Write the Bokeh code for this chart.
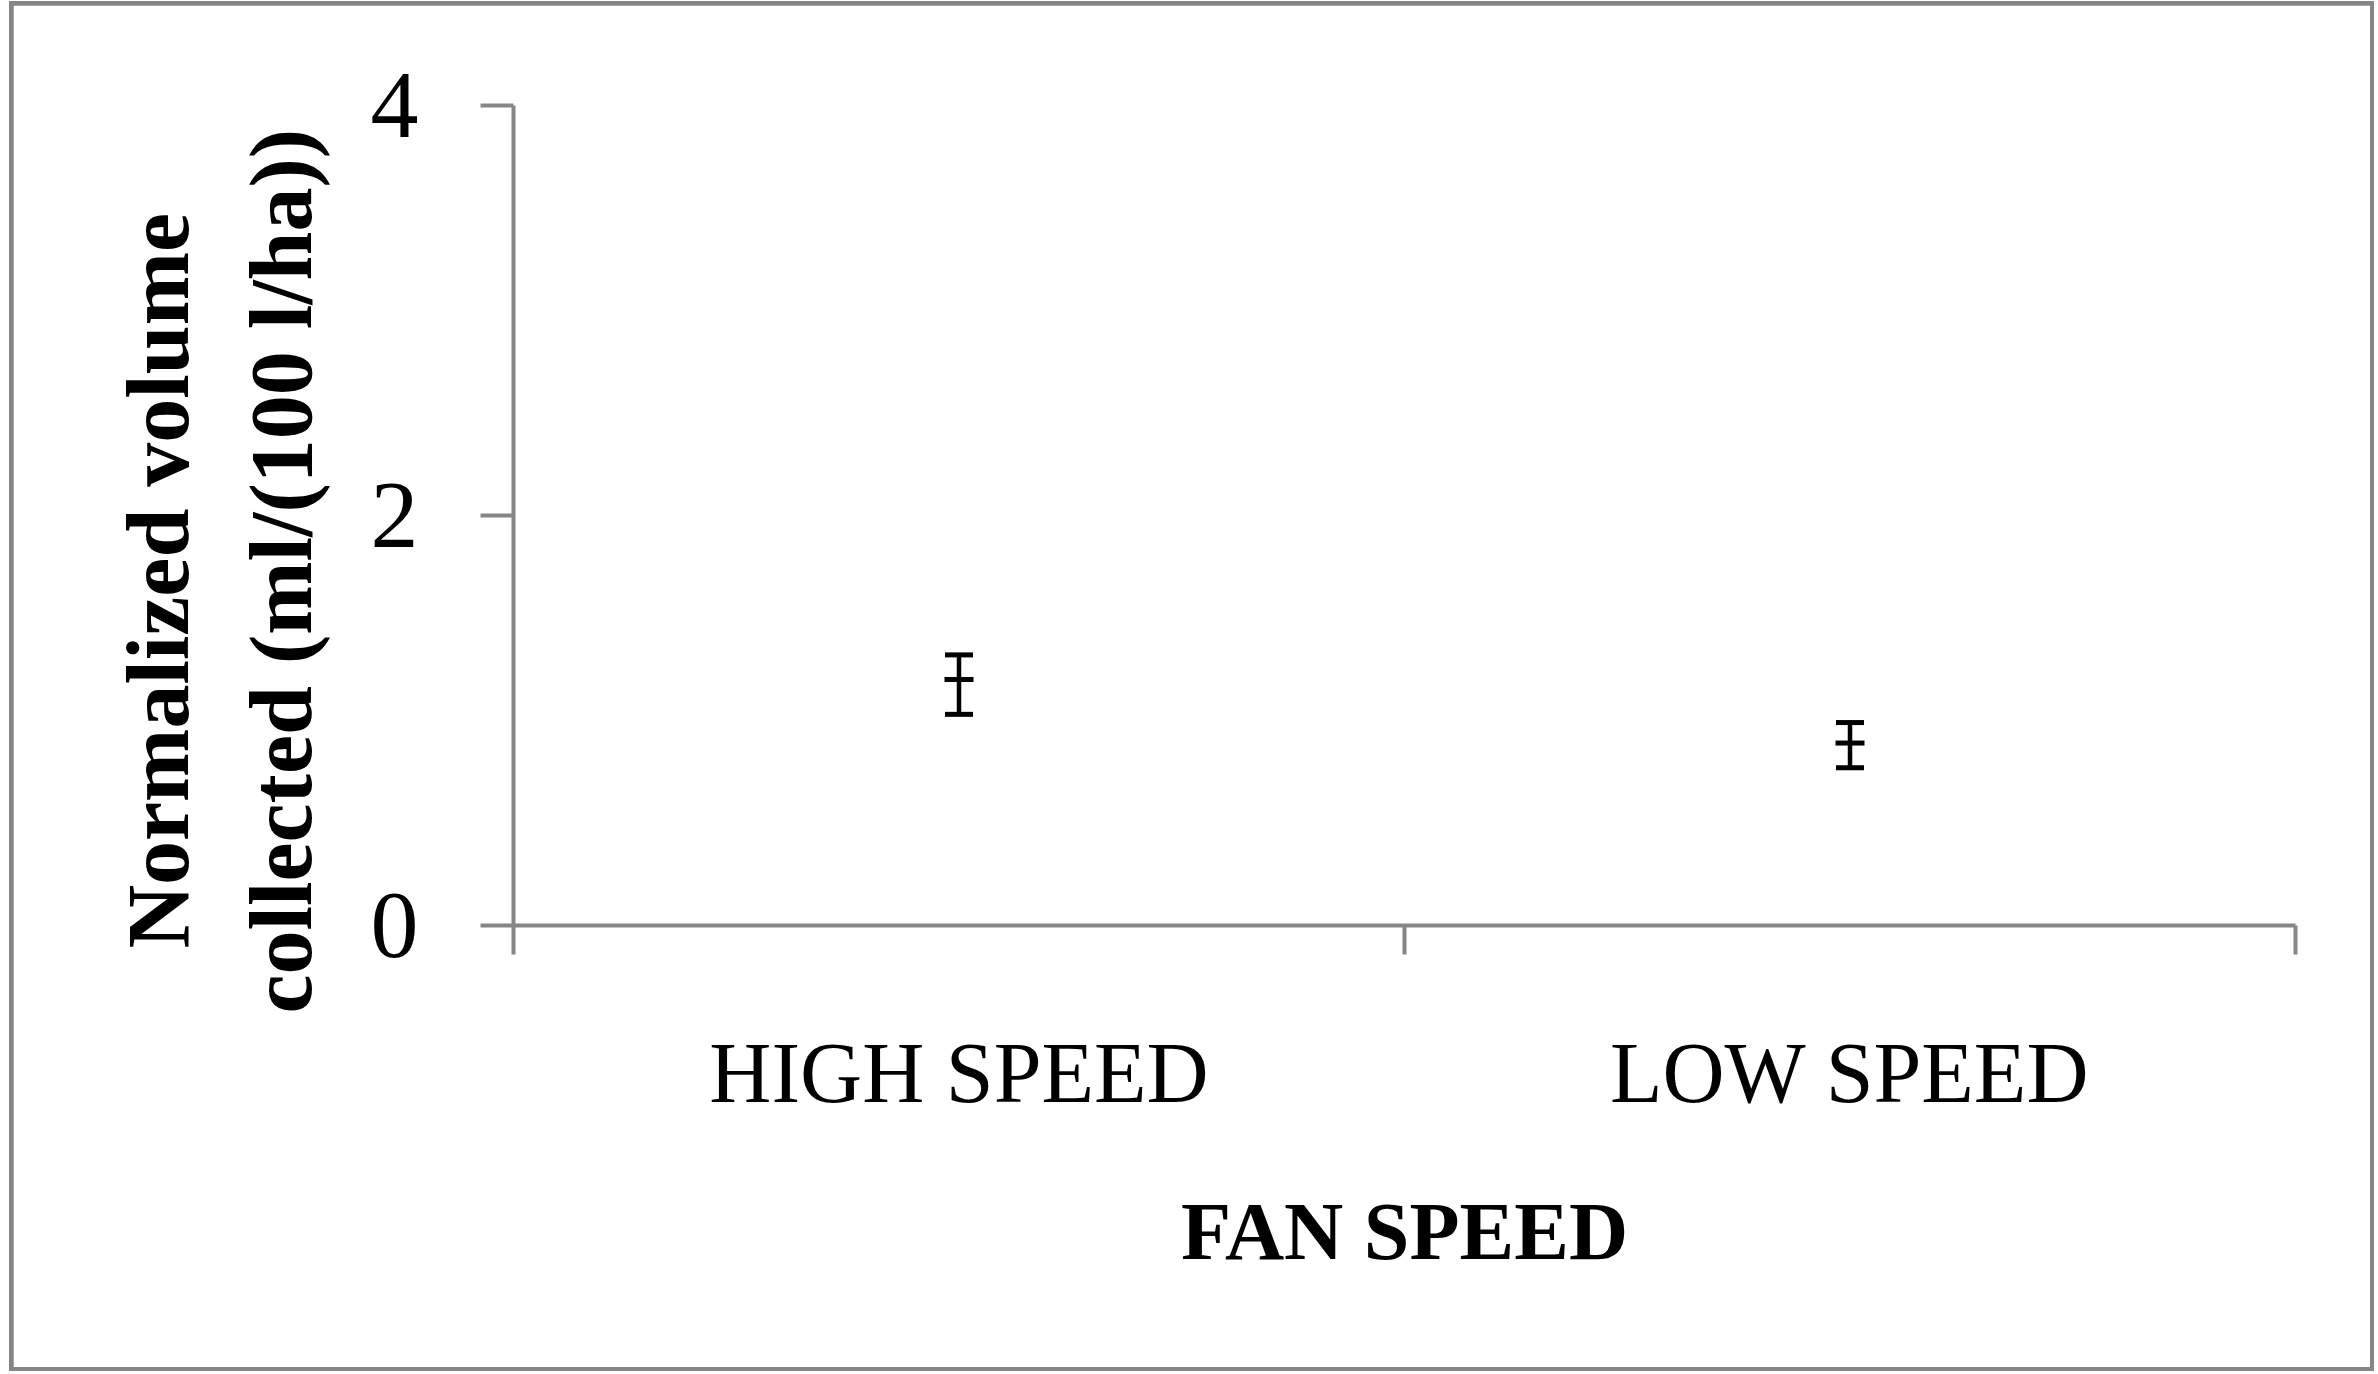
from bokeh.plotting import figure
from bokeh.models import (Range1d, FixedTicker, ColumnDataSource, Whisker, TeeHead, Title)
from bokeh.embed import file_html
from bokeh.resources import INLINE

# ---- data ----
categories = ["HIGH SPEED", "LOW SPEED"]
mean_vals = [1.20, 0.89]
upper_vals = [1.32, 0.99]
lower_vals = [1.03, 0.77]
y_ticks = [0, 2, 4]
x_title = "FAN SPEED"
y_title_lines = ["Normalized volume", "collected (ml/(100 l/ha))"]

GRAY = "#868686"
FONT = "Liberation Serif"

xpos = [i + 0.5 for i in range(len(categories))]
src = ColumnDataSource(dict(x=xpos, mean=mean_vals, upper=upper_vals, lower=lower_vals))

W, H = 2357, 1362
p = figure(width=W, height=H, output_backend="svg", toolbar_location=None,
           x_range=Range1d(0, len(categories)), y_range=Range1d(0, 4),
           min_border_left=500, min_border_right=75, min_border_top=100, min_border_bottom=442)
p.outline_line_color = None
p.xgrid.visible = False
p.ygrid.visible = False
p.background_fill_color = "white"
p.border_fill_color = "white"
p.styles = {"outline": f"5px solid {GRAY}", "outline-offset": "-1px",
            "margin": "5px 0px 0px 13px"}

# x axis: labels at category centres, tick marks at category boundaries
xa = p.xaxis[0]
xa.ticker = FixedTicker(ticks=xpos, minor_ticks=list(range(len(categories) + 1)))
xa.major_label_overrides = {x: c for x, c in zip(xpos, categories)}
xa.axis_line_color = GRAY
xa.axis_line_width = 4
xa.major_tick_line_color = None
xa.minor_tick_line_color = GRAY
xa.minor_tick_line_width = 4
xa.minor_tick_out = 29
xa.minor_tick_in = 0
xa.major_tick_out = 29
xa.major_label_standoff = 70
xa.major_label_text_font = FONT
xa.major_label_text_font_size = "86px"
xa.major_label_text_color = "black"
xa.axis_label = x_title
xa.axis_label_text_font = FONT
xa.axis_label_text_font_style = "bold"
xa.axis_label_text_font_size = "82px"
xa.axis_label_text_color = "black"
xa.axis_label_standoff = 62

ya = p.yaxis[0]
ya.ticker = FixedTicker(ticks=y_ticks, minor_ticks=[])
ya.axis_line_color = GRAY
ya.axis_line_width = 4
ya.major_tick_line_color = GRAY
ya.major_tick_line_width = 4
ya.major_tick_out = 33
ya.major_tick_in = 0
ya.minor_tick_line_color = None
ya.major_label_standoff = 62
ya.major_label_text_font = FONT
ya.major_label_text_font_size = "96px"
ya.major_label_text_color = "black"

# error bars
head = dict(size=28, line_width=5, line_color="black")
w = Whisker(source=src, base="x", upper="upper", lower="lower",
            line_color="black", line_width=4.5,
            upper_head=TeeHead(**head), lower_head=TeeHead(**head))
p.add_layout(w)
p.scatter("x", "mean", source=src, marker="dash", size=29, line_width=5,
          line_color="black")

# y-axis title (two lines), placed on the left side (inner line first)
for txt, so, off in zip(reversed(y_title_lines), [75, -27], [-88, -23]):
    p.add_layout(Title(text=txt, align="left", offset=off, standoff=so,
                       text_font=FONT, text_font_style="bold",
                       text_font_size="88px", text_color="black"), "left")

open("out.html", "w").write(file_html(p, INLINE))
